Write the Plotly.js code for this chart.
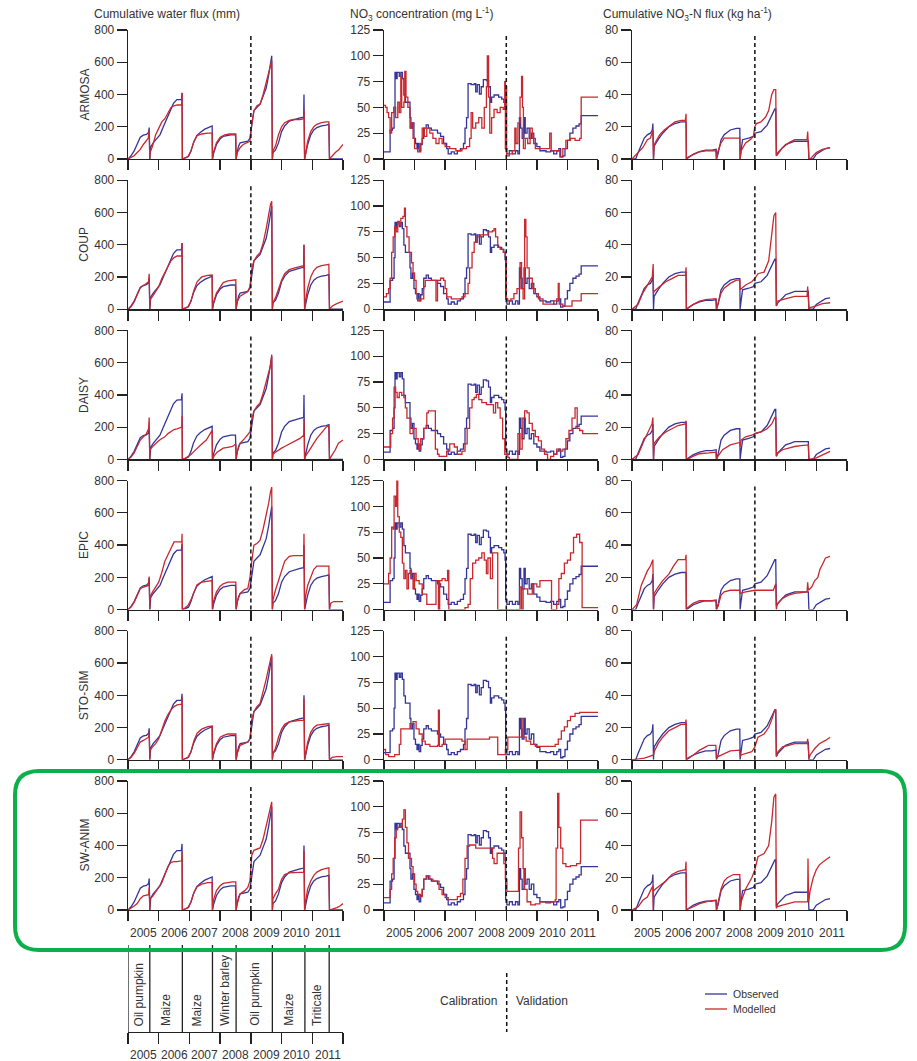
<!DOCTYPE html>
<html><head><meta charset="utf-8">
<script src="https://cdn.plot.ly/plotly-3.0.1.min.js"></script>
<style>body{margin:0;background:#fff}#chart{width:917px;height:1061px}</style>
</head><body><div id="chart"></div>
<script>
// ---------------- DATA ----------------
const rowNames = ['ARMOSA','COUP','DAISY','EPIC','STO-SIM','SW-ANIM'];
const yearLabels = ['2005','2006','2007','2008','2009','2010','2011'];
const yearTicks = [0,1,2,3,4,5,6,7];
const splitAt = 4; // calibration | validation boundary
const colTitles = ['Cumulative water flux (mm)','NO<sub>3</sub> concentration (mg L<sup>-1</sup>)','Cumulative NO<sub>3</sub>-N flux (kg ha<sup>-1</sup>)'];
const yTickVals = [[0,200,400,600,800],[0,25,50,75,100,125],[0,20,40,60,80]];
const yRanges = [[0,800],[0,125],[0,80]];
const cropNames = ['Oil pumpkin','Maize','Maize','Winter barley','Oil pumpkin','Maize','Triticale'];
const cropBounds = [0,0.71,1.77,2.75,3.52,4.70,5.76,6.55];

// Observed series ([x, y])
const obsWater = [[0,0],[0.1,20],[0.2,50],[0.3,95],[0.4,135],[0.5,148],[0.6,152],[0.67,165],[0.69,195],[0.71,0],[0.72,30],[0.74,75],[0.82,100],[0.93,125],[1.04,150],[1.15,200],[1.26,250],[1.37,300],[1.48,345],[1.59,368],[1.74,370],[1.76,410],[1.77,0],[1.85,5],[1.97,15],[2.05,50],[2.13,100],[2.24,145],[2.35,165],[2.5,185],[2.65,195],[2.73,200],[2.74,205],[2.75,0],[2.78,30],[2.88,90],[3.0,125],[3.1,140],[3.21,145],[3.35,150],[3.5,150],[3.52,0],[3.55,40],[3.6,80],[3.65,100],[3.8,105],[3.9,110],[3.97,130],[4.03,210],[4.1,300],[4.2,320],[4.3,340],[4.4,390],[4.5,440],[4.58,520],[4.64,580],[4.68,640],[4.7,0],[4.72,40],[4.8,55],[4.9,100],[5.0,170],[5.1,205],[5.25,235],[5.4,245],[5.6,255],[5.72,260],[5.73,400],[5.75,0],[5.78,30],[5.85,90],[5.95,150],[6.05,180],[6.15,195],[6.3,205],[6.45,210],[6.54,215],[6.56,0],[7.0,0]];
const obsNO3 = [[0,7],[0.15,7],[0.2,28],[0.28,30],[0.33,50],[0.36,84],[0.4,78],[0.43,84],[0.5,80],[0.55,84],[0.6,78],[0.65,62],[0.7,55],[0.8,55],[0.85,40],[0.88,30],[0.93,35],[0.98,20],[1.03,15],[1.08,10],[1.12,15],[1.15,8],[1.2,14],[1.25,20],[1.3,30],[1.38,33],[1.45,30],[1.55,28],[1.65,28],[1.75,25],[1.85,22],[1.95,15],[2.05,10],[2.1,5],[2.2,7],[2.3,5],[2.4,8],[2.5,10],[2.6,15],[2.65,30],[2.7,40],[2.75,73],[2.85,72],[2.95,73],[3.0,65],[3.05,72],[3.12,63],[3.18,70],[3.25,77],[3.35,76],[3.42,70],[3.48,55],[3.52,60],[3.6,62],[3.75,60],[3.85,58],[3.92,55],[3.96,48],[3.98,10],[4.02,5],[4.1,8],[4.2,5],[4.3,8],[4.38,5],[4.43,40],[4.47,30],[4.52,20],[4.58,40],[4.62,25],[4.68,30],[4.75,20],[4.82,25],[4.9,15],[5.0,12],[5.1,8],[5.3,7],[5.45,8],[5.55,5],[5.65,8],[5.72,10],[5.78,2],[5.85,3],[5.92,10],[6.0,18],[6.08,25],[6.18,30],[6.28,32],[6.38,34],[6.45,42],[7.0,42]];
const obsFlux = [[0,0],[0.12,0],[0.2,4],[0.3,9],[0.4,13],[0.5,15],[0.6,16],[0.66,18],[0.68,22],[0.7,0],[0.72,8],[0.85,12],[1.0,16],[1.2,20],[1.4,22],[1.6,23],[1.76,23],[1.77,0],[1.85,1],[2.0,3],[2.2,4.5],[2.4,5.5],[2.6,5.5],[2.74,6],[2.75,0],[2.8,3],[2.9,12],[3.0,15],[3.2,18],[3.4,19],[3.51,19],[3.52,0],[3.55,5],[3.6,12],[3.8,13],[3.95,14],[4.0,16],[4.2,17],[4.4,21],[4.55,27],[4.65,31],[4.68,31],[4.7,2],[4.75,4],[4.85,6],[5.0,9],[5.15,10],[5.3,11],[5.5,11],[5.74,11],[5.76,0],[5.9,0],[6.0,3],[6.15,5],[6.3,6.5],[6.45,7]];

// Modelled: water flux
const waterARMOSA = [[0,0],[0.1,8],[0.2,20],[0.3,40],[0.4,60],[0.5,90],[0.6,120],[0.66,130],[0.69,180],[0.71,0],[0.72,40],[0.8,80],[0.9,150],[1.0,190],[1.1,230],[1.2,250],[1.3,290],[1.4,320],[1.5,330],[1.6,335],[1.75,335],[1.76,410],[1.77,0],[1.85,5],[1.95,15],[2.05,50],[2.15,110],[2.25,145],[2.4,155],[2.6,160],[2.74,160],[2.75,0],[2.78,40],[2.88,100],[3.0,135],[3.15,150],[3.3,155],[3.51,155],[3.52,0],[3.56,40],[3.65,70],[3.75,90],[3.9,105],[3.97,110],[4.03,220],[4.1,300],[4.2,330],[4.3,340],[4.4,400],[4.5,480],[4.58,540],[4.64,580],[4.68,610],[4.7,0],[4.72,50],[4.8,80],[4.9,150],[5.0,200],[5.1,225],[5.25,240],[5.4,245],[5.6,245],[5.72,250],[5.73,300],[5.75,0],[5.78,30],[5.85,110],[5.95,170],[6.05,200],[6.15,215],[6.3,225],[6.45,230],[6.54,230],[6.56,0],[6.65,20],[6.75,40],[6.85,55],[6.95,80],[7.0,90]];
const waterCOUP = [[0,0],[0.1,15],[0.2,45],[0.3,95],[0.4,135],[0.5,145],[0.6,160],[0.67,170],[0.69,220],[0.71,0],[0.72,60],[0.8,80],[0.9,110],[1.0,140],[1.1,190],[1.2,230],[1.3,270],[1.4,300],[1.5,320],[1.6,330],[1.75,330],[1.76,410],[1.77,0],[1.85,5],[1.95,15],[2.05,50],[2.15,120],[2.25,170],[2.4,200],[2.6,210],[2.74,212],[2.75,0],[2.78,40],[2.88,100],[3.0,140],[3.1,165],[3.25,175],[3.4,180],[3.51,182],[3.52,0],[3.56,50],[3.65,80],[3.8,100],[3.9,110],[3.97,140],[4.03,250],[4.1,300],[4.2,330],[4.3,350],[4.4,410],[4.5,500],[4.58,590],[4.64,650],[4.68,670],[4.7,0],[4.72,40],[4.8,70],[4.9,130],[5.0,180],[5.1,220],[5.25,245],[5.4,255],[5.6,265],[5.72,270],[5.73,400],[5.75,0],[5.78,50],[5.85,130],[5.95,200],[6.05,240],[6.15,260],[6.3,270],[6.45,275],[6.54,278],[6.56,0],[6.65,20],[6.8,35],[6.9,45],[7.0,50]];
const waterDAISY = [[0,0],[0.1,15],[0.2,40],[0.3,80],[0.4,120],[0.5,140],[0.6,160],[0.67,190],[0.69,260],[0.71,0],[0.72,60],[0.8,80],[0.9,100],[1.0,115],[1.1,130],[1.2,140],[1.3,160],[1.4,175],[1.5,185],[1.6,190],[1.75,200],[1.76,270],[1.77,0],[1.85,5],[1.95,15],[2.05,30],[2.15,50],[2.25,70],[2.4,95],[2.55,120],[2.65,150],[2.74,180],[2.75,0],[2.8,20],[2.9,45],[3.0,60],[3.1,70],[3.25,75],[3.4,80],[3.51,95],[3.52,0],[3.56,50],[3.65,100],[3.8,130],[3.9,150],[3.97,170],[4.03,250],[4.1,300],[4.2,330],[4.3,350],[4.4,410],[4.5,490],[4.58,540],[4.64,580],[4.68,650],[4.7,0],[4.72,30],[4.8,45],[4.9,60],[5.0,70],[5.1,80],[5.25,95],[5.4,110],[5.6,130],[5.72,150],[5.73,250],[5.75,0],[5.78,20],[5.85,40],[5.95,70],[6.05,100],[6.15,130],[6.3,165],[6.45,200],[6.54,210],[6.56,0],[6.65,30],[6.75,60],[6.85,100],[6.95,115],[7.0,120]];
const waterEPIC = [[0,0],[0.1,15],[0.2,45],[0.3,90],[0.4,130],[0.5,140],[0.6,145],[0.67,150],[0.69,205],[0.71,0],[0.72,80],[0.8,110],[0.9,140],[1.0,170],[1.1,230],[1.2,300],[1.3,340],[1.4,380],[1.5,420],[1.6,420],[1.75,420],[1.76,470],[1.77,0],[1.85,10],[1.95,25],[2.05,60],[2.15,110],[2.25,155],[2.4,170],[2.6,175],[2.74,180],[2.75,0],[2.78,50],[2.88,110],[3.0,145],[3.1,160],[3.25,170],[3.4,170],[3.51,170],[3.52,0],[3.56,50],[3.65,100],[3.8,125],[3.9,130],[3.97,200],[4.03,300],[4.1,400],[4.2,410],[4.3,430],[4.4,500],[4.5,580],[4.58,660],[4.64,730],[4.68,760],[4.7,0],[4.72,60],[4.8,120],[4.9,180],[5.0,250],[5.1,300],[5.25,330],[5.4,335],[5.6,335],[5.72,335],[5.73,470],[5.75,0],[5.78,80],[5.85,150],[5.95,200],[6.05,250],[6.15,270],[6.3,270],[6.45,270],[6.54,270],[6.56,0],[6.6,40],[6.7,50],[7.0,50]];
const waterSTOSIM = [[0,0],[0.1,15],[0.2,40],[0.3,80],[0.4,110],[0.5,120],[0.6,135],[0.67,140],[0.69,170],[0.71,0],[0.72,60],[0.8,80],[0.9,100],[1.0,130],[1.1,190],[1.2,240],[1.3,280],[1.4,310],[1.5,330],[1.6,340],[1.75,345],[1.76,390],[1.77,0],[1.85,5],[1.95,15],[2.05,50],[2.15,120],[2.25,165],[2.4,190],[2.6,205],[2.74,210],[2.75,0],[2.78,40],[2.88,100],[3.0,140],[3.1,150],[3.25,160],[3.4,160],[3.51,160],[3.52,0],[3.56,40],[3.65,90],[3.8,105],[3.9,110],[3.97,130],[4.03,250],[4.1,300],[4.2,330],[4.3,350],[4.4,420],[4.5,500],[4.58,570],[4.64,620],[4.68,655],[4.7,0],[4.72,40],[4.8,70],[4.9,140],[5.0,190],[5.1,220],[5.25,235],[5.4,240],[5.6,245],[5.72,245],[5.73,380],[5.75,0],[5.78,40],[5.85,110],[5.95,170],[6.05,200],[6.15,215],[6.3,220],[6.45,225],[6.54,225],[6.56,0],[6.65,15],[6.8,20],[7.0,20]];
const waterSWANIM = [[0,0],[0.1,10],[0.2,25],[0.3,40],[0.4,70],[0.5,88],[0.6,92],[0.67,95],[0.69,140],[0.71,0],[0.72,70],[0.8,85],[0.9,110],[1.0,140],[1.1,170],[1.2,220],[1.3,270],[1.4,295],[1.5,300],[1.6,300],[1.75,305],[1.76,360],[1.77,0],[1.85,5],[1.95,15],[2.05,50],[2.15,110],[2.25,145],[2.4,160],[2.6,170],[2.74,170],[2.75,0],[2.78,60],[2.88,120],[3.0,150],[3.1,165],[3.25,172],[3.4,175],[3.51,175],[3.52,0],[3.56,40],[3.65,100],[3.8,120],[3.9,140],[3.97,180],[4.03,340],[4.1,370],[4.2,380],[4.3,385],[4.4,440],[4.5,520],[4.58,580],[4.64,640],[4.68,670],[4.7,0],[4.72,70],[4.8,100],[4.9,130],[5.0,190],[5.1,220],[5.25,230],[5.4,232],[5.6,235],[5.72,235],[5.73,370],[5.75,0],[5.78,50],[5.85,130],[5.95,180],[6.05,215],[6.15,235],[6.3,250],[6.45,258],[6.54,262],[6.56,0],[6.65,5],[6.8,15],[6.9,25],[7.0,40]];

// Modelled: NO3 concentration
const no3ARMOSA = [[0,52],[0.05,50],[0.1,45],[0.15,40],[0.2,25],[0.25,45],[0.32,50],[0.38,40],[0.45,55],[0.5,45],[0.55,80],[0.58,50],[0.65,55],[0.68,85],[0.72,60],[0.78,50],[0.85,30],[0.9,35],[0.95,20],[1.0,10],[1.1,7],[1.2,15],[1.25,30],[1.32,22],[1.4,30],[1.5,25],[1.6,20],[1.7,15],[1.8,20],[1.9,15],[2.0,12],[2.15,10],[2.35,8],[2.55,10],[2.7,12],[2.8,20],[2.85,45],[2.9,30],[3.0,35],[3.1,40],[3.2,30],[3.28,50],[3.35,70],[3.38,100],[3.42,60],[3.46,25],[3.52,40],[3.6,48],[3.7,45],[3.8,50],[3.9,48],[3.95,75],[3.97,10],[3.99,70],[4.01,3],[4.1,5],[4.2,8],[4.28,30],[4.32,15],[4.38,35],[4.45,60],[4.5,80],[4.53,50],[4.56,10],[4.62,20],[4.7,15],[4.78,30],[4.85,20],[4.95,10],[5.1,10],[5.3,10],[5.42,25],[5.47,8],[5.6,8],[5.75,2],[5.85,10],[5.95,18],[6.1,20],[6.25,18],[6.4,20],[6.45,60],[7.0,60]];
const no3COUP = [[0,12],[0.08,15],[0.15,20],[0.2,30],[0.25,55],[0.3,70],[0.35,80],[0.4,75],[0.45,85],[0.5,82],[0.55,88],[0.62,90],[0.67,98],[0.7,80],[0.75,70],[0.82,55],[0.9,45],[0.95,35],[1.0,28],[1.05,15],[1.1,8],[1.2,10],[1.3,22],[1.35,28],[1.5,28],[1.65,28],[1.7,8],[1.75,28],[1.85,30],[1.95,28],[2.0,20],[2.05,12],[2.2,10],[2.4,10],[2.55,12],[2.65,15],[2.75,25],[2.8,40],[2.88,55],[2.95,65],[3.05,70],[3.15,72],[3.3,72],[3.4,75],[3.55,76],[3.6,78],[3.65,70],[3.72,60],[3.8,58],[3.9,55],[3.97,50],[4.0,10],[4.05,8],[4.15,10],[4.25,15],[4.35,20],[4.45,45],[4.5,20],[4.55,10],[4.6,87],[4.64,70],[4.68,40],[4.75,30],[4.85,20],[4.95,15],[5.05,10],[5.2,5],[5.4,5],[5.55,8],[5.65,10],[5.7,25],[5.73,5],[5.85,3],[6.0,3],[6.15,8],[6.3,8],[6.45,15],[7.0,15]];
const no3DAISY = [[0,12],[0.15,12],[0.22,25],[0.28,40],[0.33,70],[0.38,65],[0.43,60],[0.5,65],[0.58,62],[0.65,60],[0.7,50],[0.75,40],[0.85,25],[0.95,30],[1.05,20],[1.12,10],[1.2,20],[1.3,30],[1.4,45],[1.45,47],[1.6,47],[1.68,10],[1.75,5],[1.8,3],[1.95,3],[2.05,8],[2.15,15],[2.3,12],[2.4,5],[2.55,8],[2.65,15],[2.72,30],[2.8,50],[2.88,58],[2.95,60],[3.02,63],[3.1,58],[3.2,55],[3.35,53],[3.5,53],[3.58,45],[3.65,55],[3.72,50],[3.8,40],[3.88,20],[3.95,5],[4.05,2],[4.1,0],[4.3,0],[4.38,25],[4.45,10],[4.52,40],[4.6,47],[4.68,45],[4.75,35],[4.85,28],[4.95,22],[5.05,18],[5.15,10],[5.25,5],[5.35,0],[5.45,3],[5.55,5],[5.65,10],[5.75,8],[5.85,10],[5.95,20],[6.05,28],[6.15,40],[6.25,50],[6.32,30],[6.4,28],[6.5,25],[7.0,25]];
const no3EPIC = [[0,25],[0.1,25],[0.15,35],[0.2,50],[0.25,80],[0.3,78],[0.33,110],[0.38,100],[0.42,125],[0.45,90],[0.5,75],[0.55,70],[0.6,45],[0.65,30],[0.7,38],[0.75,20],[0.8,35],[0.85,38],[0.9,30],[0.95,20],[1.0,35],[1.05,28],[1.15,25],[1.25,15],[1.4,5],[1.6,5],[1.7,28],[1.78,0],[1.82,28],[1.9,30],[2.0,28],[2.08,38],[2.12,0],[2.5,0],[2.65,2],[2.75,5],[2.82,30],[2.9,45],[3.0,48],[3.1,50],[3.2,55],[3.28,48],[3.35,35],[3.4,50],[3.48,30],[3.55,55],[3.68,55],[3.72,0],[4.4,0],[4.45,22],[4.5,0],[4.55,20],[4.7,15],[4.85,25],[5.0,22],[5.1,28],[5.45,28],[5.48,0],[5.65,5],[5.72,30],[5.8,35],[5.9,45],[6.0,48],[6.1,55],[6.2,70],[6.3,73],[6.4,65],[6.48,2],[7.0,2]];
const no3STOSIM = [[0,10],[0.05,5],[0.15,3],[0.35,5],[0.5,15],[0.55,30],[0.7,30],[0.85,35],[0.95,37],[1.05,30],[1.15,25],[1.25,18],[1.35,15],[1.5,13],[1.65,13],[1.75,14],[1.78,48],[1.81,13],[1.9,15],[2.0,20],[2.2,20],[2.45,20],[2.55,18],[2.65,10],[2.72,20],[2.85,20],[3.2,20],[3.45,22],[3.6,22],[3.72,5],[3.97,10],[4.05,22],[4.4,22],[4.5,40],[4.55,22],[4.65,18],[4.8,15],[4.95,13],[5.2,13],[5.5,13],[5.6,15],[5.7,20],[5.8,28],[5.9,32],[6.0,38],[6.1,42],[6.25,45],[6.4,46],[7.0,46]];
const no3SWANIM = [[0,12],[0.15,12],[0.2,20],[0.25,35],[0.3,50],[0.35,70],[0.4,78],[0.45,80],[0.55,80],[0.6,88],[0.65,97],[0.7,80],[0.75,65],[0.8,50],[0.9,42],[0.95,35],[1.0,25],[1.05,18],[1.1,15],[1.2,13],[1.25,20],[1.3,30],[1.4,33],[1.5,30],[1.6,28],[1.7,28],[1.8,20],[1.9,15],[2.0,12],[2.1,10],[2.25,10],[2.4,13],[2.5,16],[2.58,30],[2.65,50],[2.72,62],[2.8,63],[3.0,60],[3.2,60],[3.5,60],[3.55,50],[3.6,45],[3.7,55],[3.85,55],[3.92,45],[3.97,30],[4.02,18],[4.2,18],[4.35,18],[4.4,60],[4.45,95],[4.5,70],[4.55,40],[4.6,20],[4.68,8],[4.8,5],[4.95,6],[5.1,8],[5.4,8],[5.6,10],[5.63,60],[5.68,113],[5.72,80],[5.78,60],[5.85,45],[5.95,42],[6.1,43],[6.3,45],[6.42,47],[6.43,87],[7.0,87]];

// Modelled: cumulative NO3-N flux
const fluxARMOSA = [[0,0],[0.1,2],[0.2,4],[0.35,7],[0.5,12],[0.6,13],[0.65,16],[0.68,18],[0.7,0],[0.72,8],[0.75,10],[0.9,15],[1.05,18],[1.2,20],[1.4,23],[1.6,24],[1.74,24],[1.76,28],[1.77,0],[1.8,1],[2.0,3],[2.2,4.5],[2.4,5],[2.73,5],[2.75,0],[2.8,5],[2.9,10],[3.0,13],[3.2,13],[3.51,13],[3.52,0],[3.55,5],[3.7,10],[3.85,12],[3.95,14],[4.0,20],[4.05,22],[4.2,23],[4.35,26],[4.45,30],[4.55,40],[4.62,43],[4.68,43],[4.7,2],[4.75,3],[4.9,7],[5.1,10],[5.3,12],[5.5,12],[5.7,12],[5.72,17],[5.76,0],[5.8,0],[5.9,2],[6.0,4],[6.2,6],[6.45,7]];
const fluxCOUP = [[0,0],[0.2,3],[0.35,10],[0.5,15],[0.6,18],[0.66,20],[0.69,28],[0.7,10],[0.72,11],[0.9,14],[1.1,17],[1.3,19],[1.5,21],[1.74,21],[1.76,26],[1.77,0],[1.8,0.5],[2.0,3],[2.2,5],[2.4,6],[2.73,6.5],[2.75,0],[2.8,3],[2.9,10],[3.0,13],[3.2,16],[3.4,18],[3.51,18],[3.52,12],[3.7,15],[3.9,17],[4.0,19],[4.1,22],[4.3,23],[4.45,30],[4.55,45],[4.62,58],[4.68,60],[4.7,2],[4.72,5],[4.9,6],[5.1,7],[5.3,8],[5.5,8],[5.7,8],[5.72,14],[5.76,0],[5.8,1],[6.0,2],[6.2,3.5],[6.45,4]];
const fluxDAISY = [[0,0],[0.2,3],[0.4,12],[0.55,18],[0.65,22],[0.68,26],[0.7,0],[0.72,10],[0.9,14],[1.1,17],[1.3,19],[1.5,21],[1.74,22],[1.76,24],[1.77,0],[1.8,0],[2.0,2],[2.2,3.5],[2.5,4],[2.73,4.5],[2.75,0],[2.8,2],[2.95,6],[3.2,9],[3.51,10.5],[3.52,8],[3.55,12],[3.7,14],[3.9,15],[4.0,16],[4.2,17],[4.4,19],[4.55,22],[4.65,26],[4.68,26],[4.7,2],[4.75,4],[4.9,6],[5.1,7],[5.3,8],[5.5,8.5],[5.74,9],[5.76,0],[5.8,0],[6.0,1],[6.2,3],[6.45,5]];
const fluxEPIC = [[0,0],[0.15,3],[0.3,15],[0.4,20],[0.5,24],[0.6,27],[0.68,31],[0.7,0],[0.72,10],[0.85,14],[1.0,18],[1.2,22],[1.35,27],[1.5,31],[1.74,31],[1.76,34],[1.77,0],[1.8,1],[2.0,4],[2.2,5.5],[2.5,5.5],[2.73,5.5],[2.75,0],[2.8,2],[2.9,9],[3.0,11],[3.2,12],[3.51,12],[3.52,10],[3.7,11],[4.0,12],[4.2,12],[4.4,12],[4.6,12],[4.68,16],[4.7,0],[4.72,3],[4.9,7],[5.1,9],[5.3,10],[5.5,10.5],[5.7,11],[5.72,17],[5.74,12],[5.85,14],[5.95,18],[6.05,20],[6.12,25],[6.2,28],[6.3,32],[6.45,33]];
const fluxSTOSIM = [[0,0],[0.2,0.5],[0.4,1],[0.55,2],[0.65,3],[0.7,3],[0.72,5],[0.85,10],[1.0,14],[1.2,18],[1.4,20],[1.6,22],[1.74,22],[1.76,25],[1.77,0],[1.8,1],[2.0,3],[2.2,6],[2.4,8],[2.5,9],[2.73,9],[2.75,1],[2.8,2],[3.0,4],[3.2,5.5],[3.51,6],[3.52,2],[3.55,3],[3.7,4],[3.9,5],[4.0,8],[4.1,14],[4.3,16],[4.45,20],[4.55,25],[4.65,31],[4.68,31],[4.7,2],[4.75,5],[4.9,8],[5.1,9],[5.3,10],[5.7,10],[5.72,13],[5.76,1],[5.8,3],[5.95,7],[6.1,10],[6.3,12],[6.45,14]];
const fluxSWANIM = [[0,0],[0.2,2],[0.35,6],[0.5,8],[0.6,12],[0.65,14],[0.68,15],[0.69,0],[0.7,12],[0.9,15],[1.1,18],[1.3,22],[1.5,24],[1.74,25],[1.76,30],[1.77,0],[1.8,0.5],[2.0,2],[2.2,4],[2.5,5.5],[2.73,6],[2.75,0],[2.8,5],[2.9,13],[3.0,18],[3.1,20],[3.3,22],[3.51,22],[3.52,0],[3.55,5],[3.7,13],[3.9,20],[4.0,25],[4.1,33],[4.3,35],[4.45,40],[4.55,55],[4.62,70],[4.68,72],[4.7,1],[4.72,2],[4.9,3],[5.1,4],[5.3,5],[5.5,5],[5.72,5],[5.73,32],[5.75,5],[5.8,12],[5.9,20],[6.0,25],[6.1,28],[6.3,31],[6.45,33]];

const obsSeries = [obsWater, obsNO3, obsFlux];
const modelSeries = [
  [waterARMOSA, no3ARMOSA, fluxARMOSA],
  [waterCOUP, no3COUP, fluxCOUP],
  [waterDAISY, no3DAISY, fluxDAISY],
  [waterEPIC, no3EPIC, fluxEPIC],
  [waterSTOSIM, no3STOSIM, fluxSTOSIM],
  [waterSWANIM, no3SWANIM, fluxSWANIM]
];
const legendNames = ['Observed','Modelled'];

// ---------------- LAYOUT ----------------
const W = 917, H = 1061;
const px = x => x / W;
const py = y => 1 - y / H;
const BLUE = '#34349a', RED = '#c8282e', AX = '#222', TXT = '#333';
const FONT = 'Liberation Sans, Arial, Helvetica, sans-serif';
const colPx = [[128,343],[384,598],[632,847]];
const rowTop = r => 30 + 150.2 * r;
const rowH = 129;

const data = [];
const layout = {
  width: W, height: H, margin: {l:0,r:0,t:0,b:0},
  paper_bgcolor: '#fff', plot_bgcolor: 'rgba(0,0,0,0)', showlegend: false,
  font: {family: FONT, size: 12, color: TXT},
  shapes: [], annotations: []
};

for (let r = 0; r < 6; r++) {
  for (let c = 0; c < 3; c++) {
    const i = r * 3 + c + 1;
    const s = i === 1 ? '' : String(i);
    const xa = 'x' + s, ya = 'y' + s;
    layout['xaxis' + s] = {
      domain: [px(colPx[c][0]), px(colPx[c][1])], anchor: ya, range: [0, 7],
      showline: true, linecolor: AX, linewidth: 1.3, ticks: 'outside', ticklen: 10,
      tickwidth: 1.3, tickcolor: AX, tickvals: yearTicks, showticklabels: false,
      showgrid: false, zeroline: false, fixedrange: true
    };
    layout['yaxis' + s] = {
      domain: [py(rowTop(r) + rowH), py(rowTop(r))], anchor: xa, range: yRanges[c],
      showline: true, linecolor: AX, linewidth: 1.3, ticks: 'outside', ticklen: 10,
      tickwidth: 1.3, tickcolor: AX, tickvals: yTickVals[c],
      tickfont: {size: 12, color: TXT, family: FONT},
      showgrid: false, zeroline: false, fixedrange: true
    };
    [obsSeries[c], modelSeries[r][c]].forEach((ser, k) => {
      data.push({
        type: 'scatter', mode: 'lines', xaxis: xa, yaxis: ya,
        x: ser.map(p => p[0]), y: ser.map(p => p[1]),
        line: {color: k ? RED : BLUE, width: 1.3, shape: c === 1 ? 'hv' : 'linear'},
        hoverinfo: 'skip', cliponaxis: true
      });
    });
    layout.shapes.push({
      type: 'line', xref: xa, yref: ya + ' domain', x0: splitAt, x1: splitAt, y0: 0, y1: 0.975,
      line: {color: '#111', width: 1.5, dash: '4px,3px'}
    });
    if (r === 5) {
      yearLabels.forEach((t, j) => layout.annotations.push({
        xref: xa, yref: 'paper', x: j + 0.5, y: py(933), text: t, showarrow: false,
        xanchor: 'center', yanchor: 'middle', font: {size: 12, color: TXT}
      }));
    }
  }
  layout.annotations.push({
    xref: 'paper', yref: 'paper', x: px(84), y: py(rowTop(r) + rowH / 2), text: rowNames[r],
    textangle: -90, showarrow: false, xanchor: 'center', yanchor: 'middle', font: {size: 12, color: TXT}
  });
}

// column titles
[92, 348, 601].forEach((x, c) => layout.annotations.push({
  xref: 'paper', yref: 'paper', x: px(x), y: py(14), text: colTitles[c], showarrow: false,
  xanchor: 'left', yanchor: 'middle', font: {size: 12, color: TXT}
}));

// crop bar
layout.xaxis19 = {
  domain: [px(128), px(343)], anchor: 'y19', range: [0, 7], showline: true, linecolor: AX,
  linewidth: 1.3, ticks: 'outside', ticklen: 11, tickwidth: 1.3, tickcolor: AX,
  tickvals: yearTicks, showticklabels: false, showgrid: false, zeroline: false, fixedrange: true
};
layout.yaxis19 = {
  domain: [py(1032), py(945)], anchor: 'x19', range: [0, 1], visible: false, fixedrange: true
};
const cx = [], cy = [];
cropBounds.forEach(b => { cx.push(b, b, null); cy.push(0, 1, null); });
data.push({type: 'scatter', mode: 'lines', xaxis: 'x19', yaxis: 'y19', x: cx, y: cy,
  line: {color: AX, width: 1.3}, hoverinfo: 'skip', cliponaxis: false});
cropNames.forEach((n, j) => {
  const hi = j + 1 < cropBounds.length ? cropBounds[j + 1] : 7;
  layout.annotations.push({
    xref: 'x19', yref: 'paper', x: (cropBounds[j] + hi) / 2, y: py(1028), text: n,
    textangle: -90, showarrow: false, xanchor: 'center', yanchor: 'bottom', font: {size: 12, color: TXT}
  });
});
yearLabels.forEach((t, j) => layout.annotations.push({
  xref: 'x19', yref: 'paper', x: j + 0.5, y: py(1055), text: t, showarrow: false,
  xanchor: 'center', yanchor: 'middle', font: {size: 12, color: TXT}
}));

// calibration | validation key
layout.shapes.push({type: 'line', xref: 'paper', yref: 'paper', x0: px(506.7), x1: px(506.7),
  y0: py(973), y1: py(1032), line: {color: '#111', width: 1.5, dash: '4px,3px'}});
layout.annotations.push({xref: 'paper', yref: 'paper', x: px(499), y: py(1001), text: 'Calibration',
  showarrow: false, xanchor: 'right', yanchor: 'middle', font: {size: 12, color: TXT}});
layout.annotations.push({xref: 'paper', yref: 'paper', x: px(514), y: py(1001), text: 'Validation',
  showarrow: false, xanchor: 'left', yanchor: 'middle', font: {size: 12, color: TXT}});

// line legend
[[994, BLUE], [1009, RED]].forEach((e, k) => {
  layout.shapes.push({type: 'line', xref: 'paper', yref: 'paper', x0: px(705), x1: px(727),
    y0: py(e[0]), y1: py(e[0]), line: {color: e[1], width: 1.3}});
  layout.annotations.push({xref: 'paper', yref: 'paper', x: px(731), y: py(e[0]), text: legendNames[k],
    showarrow: false, xanchor: 'left', yanchor: 'middle', font: {size: 10.5, color: TXT}});
});

// green rounded highlight box
(function () {
  const L = 15, R = 905, T = 771, B = 950, rad = 24;
  const P = (x, y) => px(x) + ',' + py(y);
  const path = 'M' + P(L + rad, T) + ' L' + P(R - rad, T) + ' Q' + P(R, T) + ' ' + P(R, T + rad) +
    ' L' + P(R, B - rad) + ' Q' + P(R, B) + ' ' + P(R - rad, B) +
    ' L' + P(L + rad, B) + ' Q' + P(L, B) + ' ' + P(L, B - rad) +
    ' L' + P(L, T + rad) + ' Q' + P(L, T) + ' ' + P(L + rad, T) + ' Z';
  layout.shapes.push({type: 'path', xref: 'paper', yref: 'paper', path: path,
    line: {color: '#0bb04a', width: 4}, fillcolor: 'rgba(0,0,0,0)'});
})();

Plotly.newPlot('chart', data, layout, {displayModeBar: false, staticPlot: true});
</script>
</body></html>
